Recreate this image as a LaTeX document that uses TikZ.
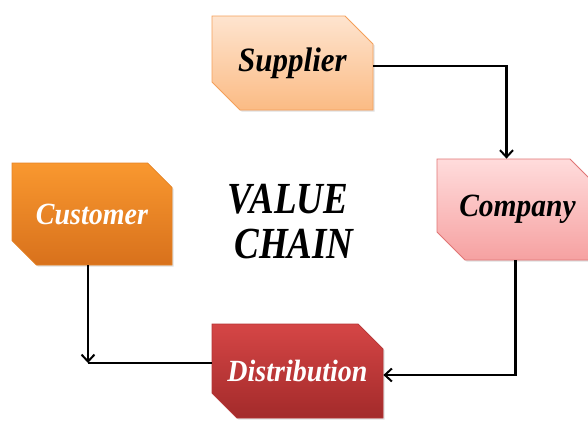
\documentclass[tikz,border=0pt]{standalone}
\usepackage{fontspec}
\setmainfont{Liberation Serif}
\usetikzlibrary{shapes.misc,arrows.meta,shadows}

\definecolor{supTop}{HTML}{FEE4CF}
\definecolor{supBot}{HTML}{FBBB84}
\definecolor{supLine}{HTML}{F5A05A}
\definecolor{cusTop}{HTML}{F9982F}
\definecolor{cusBot}{HTML}{D8711C}
\definecolor{cusLine}{HTML}{E58325}
\definecolor{comTop}{HTML}{FFDCDC}
\definecolor{comBot}{HTML}{F6A1A1}
\definecolor{comLine}{HTML}{E07575}
\definecolor{disTop}{HTML}{D54646}
\definecolor{disBot}{HTML}{A32A2A}
\definecolor{disLine}{HTML}{B53434}

% label text, stretched upward a little
\newcommand{\tall}[1]{\scalebox{1}[1.1]{#1}}

\tikzset{
  chainbox/.style={
    chamfered rectangle,
    chamfered rectangle corners={north east,south west},
    chamfered rectangle xsep=14pt,
    chamfered rectangle ysep=14pt,
    inner sep=0pt, line width=0.8pt,
    drop shadow={shadow xshift=1.5pt,shadow yshift=-1.5pt,opacity=0.25}},
  boxfont/.style={font=\fontsize{#1}{#1}\selectfont\bfseries\itshape},
  conn/.style={line width=2.3pt,-{Straight Barb[length=7pt,width=13pt,line width=2pt]}},
  plainline/.style={line width=2.3pt},
  titletext/.style={font=\fontsize{37}{37}\selectfont\bfseries\itshape}
}

\begin{document}
\begin{tikzpicture}[x=1pt,y=-1pt]
\useasboundingbox (0,0) rectangle (588,421);

\node[chainbox,boxfont=31,minimum width=161pt,minimum height=94pt,
      top color=supTop,bottom color=supBot,draw=supLine,text=black]
  (sup) at (292.5,63) {\tall{Supplier}};
\node[chainbox,boxfont=29.5,minimum width=161pt,minimum height=101pt,
      top color=comTop,bottom color=comBot,draw=comLine,text=black]
  (com) at (517.5,209.5) {\tall{Company}};
\node[chainbox,boxfont=28,minimum width=171pt,minimum height=94pt,
      top color=disTop,bottom color=disBot,draw=disLine,text=white]
  (dis) at (297.5,371) {\tall{Distribution}};
\node[chainbox,boxfont=28,minimum width=160pt,minimum height=102pt,
      top color=cusTop,bottom color=cusBot,draw=cusLine,text=white]
  (cus) at (92,214) {\tall{Customer}};

\node[titletext] (value) at (288,199) {\scalebox{1}[1.2]{VALUE}};
\node[titletext] (chain) at (294,244) {\scalebox{1}[1.2]{CHAIN}};

\coordinate (bend) at (88,363);

\draw[conn] ([yshift=-3pt]sup.east) -| ([xshift=-11pt]com.north);
\draw[conn] ([xshift=-2pt]com.south) |- ([yshift=-4pt]dis.east);
\draw[plainline] ([yshift=8pt]dis.west) -- (bend);
\draw[conn] ([xshift=-4pt]cus.south) -- (bend);
\end{tikzpicture}
\end{document}
